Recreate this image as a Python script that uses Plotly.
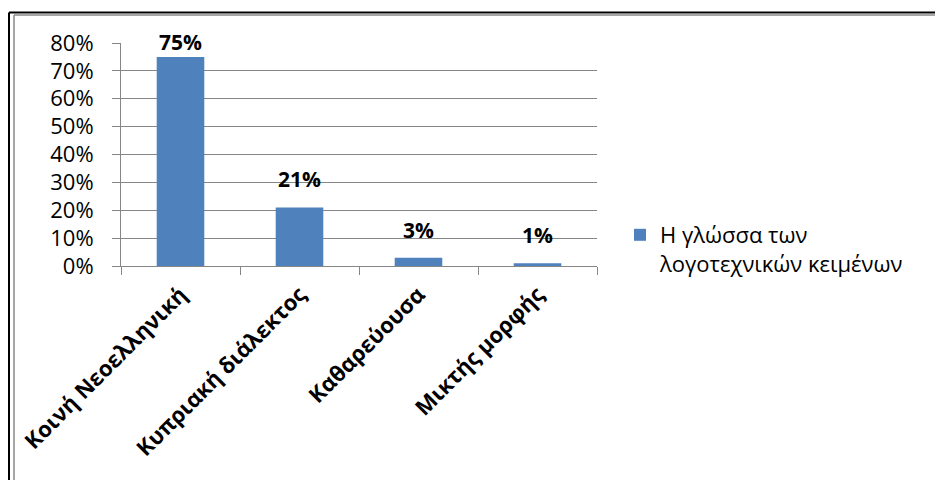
import plotly.graph_objects as go

categories = ["Κοινή Νεοελληνική", "Κυπριακή διάλεκτος", "Καθαρεύουσα", "Μικτής μορφής"]
values = [0.75, 0.21, 0.03, 0.01]
series_name = "Η γλώσσα των<br>λογοτεχνικών κειμένων"
y_ticks = [0, 0.1, 0.2, 0.3, 0.4, 0.5, 0.6, 0.7, 0.8]

FONT = "Open Sans"
BLUE = "#4F81BD"
GRID = "#868686"

W, H = 935, 480
# plot area in screen pixels: x 121..597, y 43..266
L, R, T, B = 121, 935 - 597, 43, 480 - 266
pw, ph = W - L - R, H - T - B

fig = go.Figure()
fig.add_trace(go.Bar(
    x=categories, y=values, name=series_name,
    marker=dict(color=BLUE, line=dict(width=0)),
    showlegend=True, hoverinfo="skip",
))

# data labels placed above bars (clamped at the top of the plot)
ymax = y_ticks[-1]
per_px = ymax / ph
for c, v in zip(categories, values):
    ly = min(v + 18 * per_px, ymax - 9 * per_px)
    fig.add_annotation(x=c, y=ly, text=f"<b>{round(v*100)}%</b>", showarrow=False,
                       yanchor="bottom", yshift=-6,
                       font=dict(family=FONT, size=21, color="black"))

def px2x(p):
    return (p - L) / pw

def py2y(p):
    return (H - B - p) / ph

# outer frame (black) and inner frame (gray): top and left edges only
for (fx, fy, col, wd) in [(9, 12.5, "black", 2), (14, 15, "#888888", 1.5)]:
    fig.add_shape(type="line", xref="paper", yref="paper",
                  x0=px2x(fx), x1=px2x(1000), y0=py2y(fy), y1=py2y(fy),
                  line=dict(color=col, width=wd), layer="below")
    fig.add_shape(type="line", xref="paper", yref="paper",
                  x0=px2x(fx), x1=px2x(fx), y0=py2y(fy), y1=py2y(600),
                  line=dict(color=col, width=wd), layer="below")

fig.update_layout(
    width=W, height=H,
    margin=dict(l=L, r=R, t=T, b=B, pad=0),
    paper_bgcolor="white", plot_bgcolor="white",
    bargap=0.6,
    font=dict(family=FONT, size=22, color="black"),
    legend=dict(x=px2x(620), xanchor="left", y=py2y(214), yanchor="top",
                font=dict(family=FONT, size=22, color="black"),
                bgcolor="rgba(0,0,0,0)", valign="top", itemwidth=30),
)
fig.update_xaxes(
    showline=True, linecolor=GRID, linewidth=1,
    ticks="outside", tickson="boundaries", ticklen=8, tickcolor=GRID,
    tickangle=-45, ticklabelstandoff=6,
    tickfont=dict(family=FONT, size=22, color="black", weight="bold"),
    showgrid=False, automargin=False,
)
fig.update_yaxes(
    range=[0, ymax], tickvals=y_ticks, tickformat=".0%",
    showline=True, linecolor=GRID, linewidth=1,
    ticks="outside", ticklen=8, tickcolor=GRID, ticklabelstandoff=14,
    showgrid=True, gridcolor=GRID, gridwidth=1,
    tickfont=dict(family=FONT, size=22, color="black"),
    zeroline=False, automargin=False,
)

fig.write_html(
    "out.html",
    config={"displayModeBar": False},
    post_script="document.body.style.margin='0';document.documentElement.style.overflow='hidden';",
)
